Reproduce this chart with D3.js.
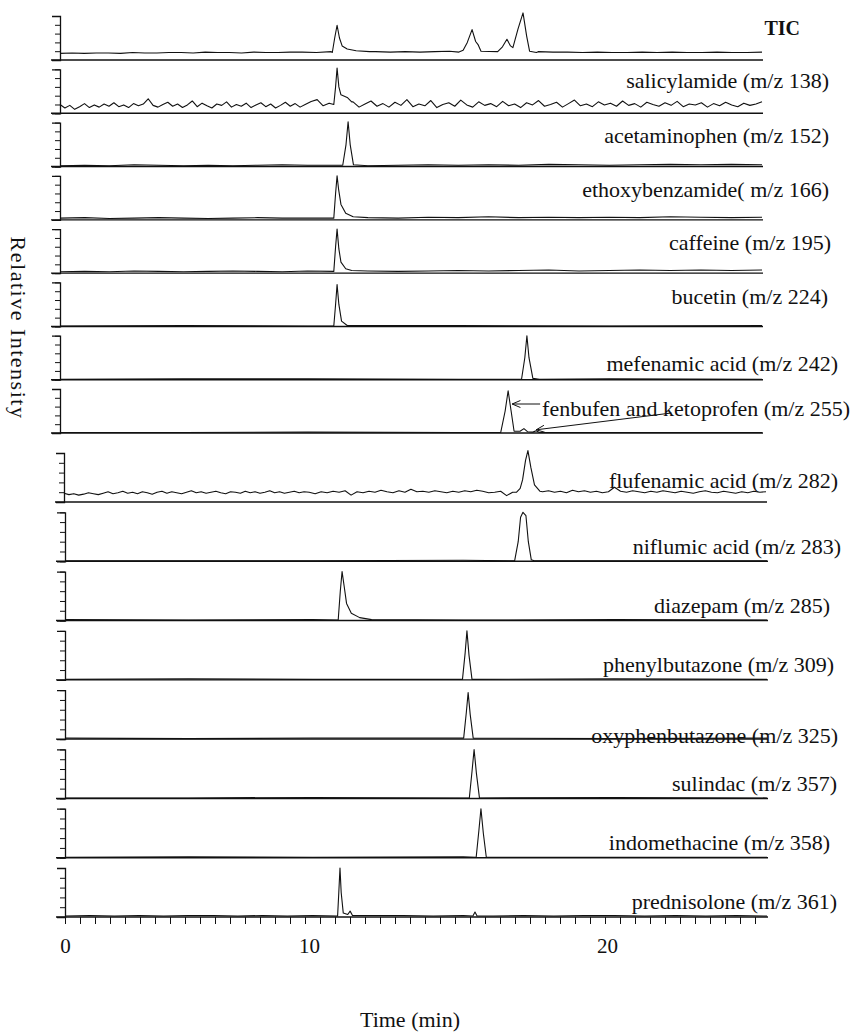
<!DOCTYPE html>
<html>
<head>
<meta charset="utf-8">
<script src="https://cdn.jsdelivr.net/npm/d3@7"></script>
<style>
  body { margin: 0; background: #fff; }
  svg { display: block; font-family: "Liberation Serif", "Times New Roman", serif; }
</style>
</head>
<body>
<svg class="chromChart" width="852" height="1035"></svg>
<script>
// ---------- data ----------
const rowLabels = [
    "TIC",
    "salicylamide (m/z 138)",
    "acetaminophen (m/z 152)",
    "ethoxybenzamide( m/z 166)",
    "caffeine (m/z 195)",
    "bucetin (m/z 224)",
    "mefenamic acid (m/z 242)",
    "fenbufen and ketoprofen (m/z 255)",
    "flufenamic acid (m/z 282)",
    "niflumic acid (m/z 283)",
    "diazepam (m/z 285)",
    "phenylbutazone (m/z 309)",
    "oxyphenbutazone (m/z 325)",
    "sulindac (m/z 357)",
    "indomethacine (m/z 358)",
    "prednisolone (m/z 361)"
];

const timeTicks = [0, 10, 20];
const tEnd = 25.3; // min, right end of the traces

// baseline samples (relative intensity), evenly spaced from 0 to tEnd
const ticBase = [0.15,0.16,0.15,0.16,0.16,0.15,0.17,0.16,0.16,0.17, 0.17,0.16,0.18,0.17,0.17,0.16,0.18,0.17,0.17,0.18,
    0.18,0.17,0.19,0.18,0.18,0.19,0.18,0.19,0.18,0.19, 0.20,0.19,0.19,0.20,0.19,0.18,0.19,0.18,0.18,0.17,
    0.18,0.17,0.17,0.18,0.17,0.18,0.17,0.17,0.18,0.17, 0.17,0.18];
const salBase = [0.20,0.12,0.18,0.09,0.15,0.22,0.13,0.19,0.14,0.21, 0.16,0.24,0.15,0.19,0.13,0.22,0.17,0.21,0.33,0.18,
    0.14,0.20,0.25,0.16,0.21,0.13,0.19,0.28,0.15,0.23, 0.17,0.12,0.21,0.18,0.26,0.14,0.20,0.16,0.23,0.13,
    0.19,0.24,0.15,0.21,0.12,0.18,0.25,0.16,0.22,0.14, 0.20,0.27,0.31,0.17,0.23,0.16,0.21,0.18,0.26,0.14,
    0.21,0.28,0.16,0.22,0.14,0.25,0.18,0.31,0.15,0.21, 0.17,0.29,0.13,0.20,0.24,0.16,0.30,0.19,0.14,0.26,
    0.18,0.22,0.15,0.27,0.17,0.21,0.13,0.24,0.19,0.29, 0.16,0.20,0.25,0.14,0.22,0.30,0.17,0.21,0.15,0.26,
    0.19,0.23,0.16,0.28,0.18,0.22,0.14,0.25,0.20,0.16, 0.24,0.18,0.27,0.15,0.21,0.19,0.24,0.14,0.22,0.17,
    0.25,0.19,0.15,0.23,0.18,0.21,0.26];
const acetBase = [0.02,0.03,0.02,0.04,0.03,0.02,0.03,0.02,0.03,0.04,0.03,0.03,0.02,0.03,0.04,0.03,0.04,0.03,0.05,0.04,0.03,0.04,0.05,0.04,0.05,0.04];
const ethoxyBase = [0.04,0.05,0.03,0.04,0.05,0.04,0.03,0.04,0.05,0.04,0.04,0.06,0.05,0.04,0.06,0.05,0.07,0.05,0.06,0.05,0.06,0.05,0.07,0.06,0.05,0.06];
const caffeineBase = [0.03,0.04,0.03,0.05,0.04,0.03,0.04,0.05,0.04,0.03,0.05,0.06,0.05,0.04,0.05,0.06,0.05,0.06,0.07,0.05,0.06,0.07,0.06,0.07,0.06,0.07];
const bucetinBase = [0.01,0.02,0.01,0.02,0.01,0.02];
const mefenamicBase = [0.01,0.02,0.02,0.01,0.02,0.01];
const fenbufenBase = [0.01,0.01,0.02,0.01,0.01,0.01];
const fluBase = [0.18,0.15,0.17,0.14,0.16,0.19,0.17,0.15,0.18,0.21, 0.17,0.19,0.22,0.18,0.20,0.17,0.21,0.19,0.16,0.20,
    0.22,0.18,0.21,0.19,0.17,0.20,0.23,0.19,0.21,0.18, 0.20,0.22,0.19,0.17,0.21,0.20,0.18,0.22,0.19,0.21,
    0.18,0.20,0.23,0.19,0.21,0.18,0.20,0.22,0.19,0.21, 0.20,0.17,0.21,0.19,0.22,0.20,0.23,0.14,0.21,0.19,
    0.22,0.20,0.24,0.21,0.19,0.23,0.20,0.26,0.21,0.22, 0.20,0.23,0.21,0.19,0.22,0.20,0.23,0.21,0.24,0.22,
    0.19,0.20,0.22,0.13,0.20,0.18,0.22,0.24,0.20,0.21, 0.23,0.20,0.22,0.19,0.24,0.21,0.23,0.20,0.22,0.19,
    0.21,0.30,0.22,0.20,0.23,0.21,0.19,0.22,0.20,0.23, 0.21,0.19,0.22,0.20,0.18,0.21,0.23,0.20,0.19,0.22,
    0.20,0.18,0.21,0.19,0.22,0.20,0.21];
const niflumicBase = [0.01,0.01,0.01,0.02,0.01,0.01];
const diazepamBase = [0.02,0.01,0.02,0.01,0.02,0.01];
const phenylBase = [0.01,0.02,0.01,0.01,0.02,0.01];
const oxyBase = [0.02,0.01,0.02,0.02,0.01,0.02];
const sulindacBase = [0.01,0.01,0.02,0.01,0.02,0.01];
const indoBase = [0.01,0.02,0.01,0.02,0.01,0.01];
const predBase = [0.02,0.03,0.02,0.03,0.02,0.03,0.03,0.02,0.03,0.02,0.03,0.02,0.03,0.03,0.02,0.03,0.02,0.03,0.02,0.03,0.03,0.02,0.03,0.02,0.03,0.02];

// peak regions: [time (min), relative intensity]
const ticPeaks = [
    [[10.95,0.17],[11.03,0.5],[11.11,0.79],[11.19,0.5],[11.28,0.32],[11.45,0.25],[11.75,0.21],[12.2,0.19]],
    [[15.2,0.18],[15.34,0.22],[15.48,0.4],[15.64,0.69],[15.76,0.42],[15.84,0.35],[15.94,0.2],[16.5,0.19],[16.66,0.3],
     [16.81,0.47],[16.93,0.32],[17.01,0.28],[17.18,0.7],[17.35,1.07],[17.47,0.55],[17.57,0.2],[17.8,0.17]]
];
const salPeaks = [[[11.0,0.2],[11.06,0.6],[11.11,1.03],[11.17,0.6],[11.24,0.42],[11.45,0.36],[11.6,0.26]]];
const acetPeaks = [[[11.3,0.03],[11.41,0.5],[11.48,1.02],[11.55,0.5],[11.66,0.04]]];
const ethoxyPeaks = [[[11.0,0.04],[11.06,0.6],[11.11,1.0],[11.16,0.7],[11.24,0.35],[11.4,0.15],[11.65,0.07]]];
const caffeinePeaks = [[[11.0,0.04],[11.06,0.6],[11.11,1.0],[11.17,0.55],[11.24,0.25],[11.4,0.1],[11.6,0.06]]];
const bucetinPeaks = [[[11.0,0.01],[11.06,0.5],[11.11,0.95],[11.17,0.5],[11.26,0.12],[11.45,0.02]]];
const mefenamicPeaks = [[[17.3,0.01],[17.41,0.5],[17.48,1.0],[17.55,0.5],[17.68,0.03],[17.9,0.01]]];
const fenbufenPeaks = [[[16.6,0.01],[16.75,0.5],[16.85,0.96],[16.95,0.5],[17.05,0.04],[17.25,0.04],[17.38,0.1],
    [17.5,0.03],[17.68,0.02],[17.79,0.05],[17.9,0.01]]];
const fluPeaks = [[[17.0,0.2],[17.12,0.28],[17.2,0.45],[17.3,0.85],[17.38,1.05],[17.48,0.7],[17.6,0.35],[17.78,0.22]]];
const niflumicPeaks = [[[16.9,0.01],[17.02,0.4],[17.1,0.9],[17.18,1.0],[17.28,0.93],[17.36,0.4],[17.46,0.03],[17.56,0.01]]];
const diazepamPeaks = [[[10.98,0.01],[11.05,0.6],[11.11,1.0],[11.18,0.7],[11.26,0.35],[11.42,0.15],[11.7,0.06],[12.1,0.02]]];
const phenylPeaks = [[[15.15,0.01],[15.24,0.55],[15.3,1.0],[15.37,0.5],[15.47,0.01]]];
const oxyPeaks = [[[15.19,0.02],[15.28,0.55],[15.34,0.95],[15.41,0.5],[15.51,0.02]]];
const sulindacPeaks = [[[15.38,0.01],[15.47,0.55],[15.54,1.0],[15.62,0.5],[15.72,0.01]]];
const indoPeaks = [[[15.61,0.01],[15.7,0.55],[15.77,1.0],[15.85,0.5],[15.95,0.01]]];
const predPeaks = [
    [[10.96,0.02],[11.0,0.5],[11.04,1.0],[11.08,0.5],[11.15,0.08],[11.3,0.05],[11.38,0.12],[11.46,0.03]],
    [[15.5,0.02],[15.57,0.1],[15.64,0.02]]
];

// ---------- layout ----------
const labelRight = [800, 829, 829, 829, 831, 828, 838, 850, 838, 841, 830, 834, 838, 837, 830, 837];
const labelRise = [25, 25, 24, 23, 23, 22, 9, 17, 14, 7, 8, 8, -4, 7, 8, 8];

class ChromatogramChart{

    constructor(rows){
        this.rows = rows;
        // time -> px, relative to each panel's left axis (the scanned time labels are not evenly spaced)
        this.x = d3.scaleLinear().domain([0, 10, 20, tEnd]).range([0, 244, 542, 702]);
        // panel index -> baseline y (upper 8 panels are packed tighter than the lower 8)
        this.rowY = d3.scaleLinear().domain([0, 7, 8, 15]).range([60, 433, 502, 917]);
    }

    draw(){
        let svg = d3.select(".chromChart");
        this.rows.forEach((row, i) => this.drawRow(svg, row, i));
        this.drawTimeAxis(svg);

        svg.append("text")
            .attr("transform", "translate(11, 328) rotate(90)")
            .attr("text-anchor", "middle")
            .attr("font-size", 22)
            .attr("letter-spacing", 1.5)
            .attr("fill", "#111")
            .text("Relative  Intensity");

        svg.append("text")
            .attr("x", 410).attr("y", 1027)
            .attr("text-anchor", "middle")
            .attr("font-size", 22)
            .attr("fill", "#111")
            .text("Time (min)");
    }

    //merge the baseline samples with the peak regions
    buildTrace(base, peaks){
        let step = tEnd / (base.length - 1);
        let pts = base.map((v, i) => [i * step, v]);
        for(let group of peaks){
            let t0 = group[0][0], t1 = group[group.length - 1][0];
            pts = pts.filter(p => p[0] < t0 || p[0] > t1).concat(group);
        }
        return pts.sort((a, b) => a[0] - b[0]);
    }

    leftOf(i){
        if(i < 8) return 60;
        if(i === 8) return 64;
        return 65;
    }

    drawRow(svg, row, i){
        let x = this.x;
        let base = this.rowY(i);
        let h = i < 8 ? 44 : 49;
        let y = d3.scaleLinear().domain([0, 1]).range([base, base - h]);

        let g = svg.append("g").attr("transform", `translate(${this.leftOf(i)}, 0)`);

        // baseline
        g.append("line")
            .attr("x1", x(0) - 9).attr("x2", x(tEnd) + 1)
            .attr("y1", y(0)).attr("y2", y(0))
            .attr("stroke", "#111").attr("stroke-width", 1.4);

        // little intensity axis
        let ax = g.append("g")
            .attr("transform", `translate(${x(0)}, 0)`)
            .call(d3.axisLeft(y).tickValues([0, 0.2, 0.4, 0.6, 0.8, 1]).tickSize(5).tickSizeOuter(8).tickFormat(""));
        ax.select(".domain").attr("stroke", "#111").attr("stroke-width", 1.3);
        ax.selectAll(".tick line").attr("stroke", "#111").attr("stroke-width", 1);

        // trace
        let line = d3.line().x(d => x(d[0])).y(d => y(d[1]));
        g.append("path")
            .datum(this.buildTrace(row.base, row.peaks))
            .attr("fill", "none")
            .attr("stroke", "#111")
            .attr("stroke-width", 1.1)
            .attr("stroke-linejoin", "round")
            .attr("d", line);

        // label
        let label = svg.append("text")
            .attr("x", labelRight[i])
            .attr("y", base - labelRise[i])
            .attr("text-anchor", "end")
            .attr("fill", "#111")
            .attr("font-size", i === 0 ? 20 : 22)
            .attr("font-weight", i === 0 ? "bold" : null)
            .text(row.label);

        if(i === 7){
            this.drawFenbufenArrows(svg, label, y, this.leftOf(i));
        }
    }

    drawFenbufenArrows(svg, label, y, left){
        let box = label.node().getBBox();
        let textY = +label.attr("y");
        let arrows = svg.append("g").attr("stroke", "#111").attr("stroke-width", 1).attr("fill", "none");

        // short arrow to fenbufen apex
        let big = fenbufenPeaks[0][2];
        this.arrow(arrows, box.x - 2, textY - 12, left + this.x(big[0]) + 4, textY - 12);

        // long arrow to the small ketoprofen bump
        let small = fenbufenPeaks[0][9];
        this.arrow(arrows, box.x + box.width * 0.42, textY - 3, left + this.x(small[0]), y(small[1]) - 1);
    }

    arrow(g, x1, y1, x2, y2){
        g.append("line").attr("x1", x1).attr("y1", y1).attr("x2", x2).attr("y2", y2);
        let a = Math.atan2(y1 - y2, x1 - x2);
        let len = 9, spread = 0.4;
        let head = [
            [x2 + len * Math.cos(a + spread), y2 + len * Math.sin(a + spread)],
            [x2, y2],
            [x2 + len * Math.cos(a - spread), y2 + len * Math.sin(a - spread)]
        ];
        g.append("path").attr("d", d3.line()(head));
    }

    drawTimeAxis(svg){
        let left = this.leftOf(15);
        let base = this.rowY(15);

        // minor ruler ticks under the last panel
        let ruler = d3.scaleLinear().domain([0, 46]).range([left, left + 690]);
        let rt = svg.append("g")
            .attr("transform", `translate(0, ${base})`)
            .call(d3.axisBottom(ruler).tickValues(d3.range(0, 47)).tickSize(7).tickFormat(""));
        rt.select(".domain").remove();
        rt.selectAll(".tick line").attr("stroke", "#111").attr("stroke-width", 1);

        // time labels
        let ax = svg.append("g")
            .attr("transform", `translate(${left}, ${base})`)
            .call(d3.axisBottom(this.x).tickValues(timeTicks).tickSize(0).tickPadding(21));
        ax.select(".domain").remove();
        ax.attr("font-family", null).attr("font-size", 21);
        ax.selectAll("text").attr("fill", "#111");
    }
}

const baseLists = [ticBase, salBase, acetBase, ethoxyBase, caffeineBase, bucetinBase, mefenamicBase, fenbufenBase,
    fluBase, niflumicBase, diazepamBase, phenylBase, oxyBase, sulindacBase, indoBase, predBase];
const peakLists = [ticPeaks, salPeaks, acetPeaks, ethoxyPeaks, caffeinePeaks, bucetinPeaks, mefenamicPeaks, fenbufenPeaks,
    fluPeaks, niflumicPeaks, diazepamPeaks, phenylPeaks, oxyPeaks, sulindacPeaks, indoPeaks, predPeaks];

const rows = rowLabels.map((label, i) => ({label: label, base: baseLists[i], peaks: peakLists[i]}));

let chart = new ChromatogramChart(rows);
chart.draw();
</script>
</body>
</html>
